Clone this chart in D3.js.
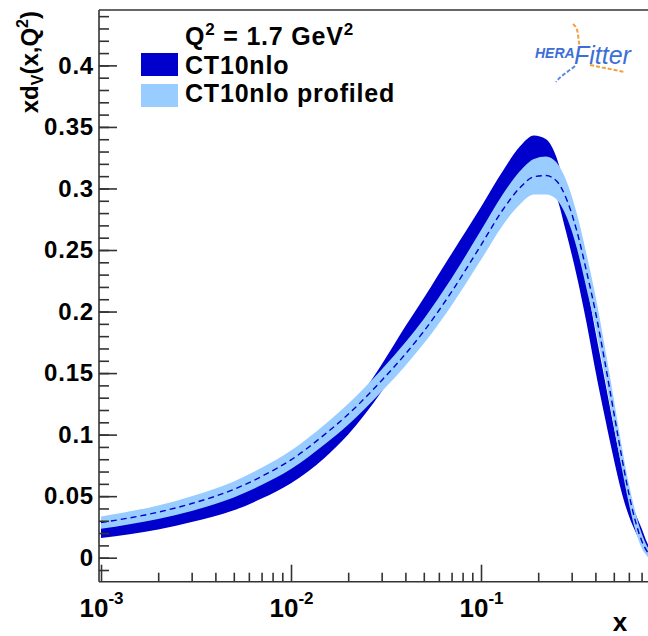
<!DOCTYPE html>
<html lang="en">
<head>
<meta charset="UTF-8">
<title>xdv CT10nlo profiled</title>
<script src="https://cdn.jsdelivr.net/npm/d3@7"></script>
<style>
  body { margin: 0; background: #fff; }
  svg text { font-family: "Liberation Sans", Arial, sans-serif; font-weight: bold; fill: #000; }
</style>
</head>
<body>
<div id="container"></div>
<script>
// x grid shared by all curves
const xGrid   = [0.001, 0.002, 0.003, 0.005, 0.007, 0.01, 0.015, 0.02, 0.03, 0.04, 0.05, 0.07, 0.1, 0.13, 0.16, 0.19, 0.22, 0.25, 0.28, 0.32, 0.36, 0.4, 0.45, 0.5, 0.55, 0.6, 0.65, 0.7, 0.75, 0.8];
// CT10nlo band
const ct10Lo  = [0.016, 0.023, 0.029, 0.0385, 0.048, 0.0605, 0.081, 0.100, 0.135, 0.164, 0.185, 0.219, 0.255, 0.282, 0.300, 0.309, 0.306, 0.293, 0.265, 0.228, 0.190, 0.152, 0.113, 0.080, 0.053, 0.034, 0.021, 0.011, 0.004, 0.001];
const ct10Hi  = [0.025, 0.0335, 0.040, 0.051, 0.061, 0.0745, 0.097, 0.118, 0.157, 0.188, 0.211, 0.247, 0.285, 0.314, 0.334, 0.343, 0.340, 0.325, 0.297, 0.258, 0.222, 0.184, 0.143, 0.106, 0.075, 0.052, 0.036, 0.024, 0.012, 0.005];
// CT10nlo profiled band and central value
const profLo  = [0.0235, 0.0315, 0.038, 0.049, 0.059, 0.072, 0.092, 0.108, 0.135, 0.156, 0.174, 0.205, 0.242, 0.270, 0.287, 0.295, 0.295, 0.291, 0.278, 0.251, 0.218, 0.187, 0.146, 0.107, 0.073, 0.044, 0.022, 0.008, 0.001, -0.003];
const profHi  = [0.0335, 0.0425, 0.050, 0.062, 0.073, 0.087, 0.108, 0.125, 0.153, 0.175, 0.194, 0.227, 0.266, 0.295, 0.314, 0.324, 0.326, 0.321, 0.307, 0.279, 0.246, 0.213, 0.170, 0.129, 0.091, 0.060, 0.037, 0.020, 0.009, 0.004];
const profMid = [0.0285, 0.037, 0.044, 0.0555, 0.066, 0.0795, 0.100, 0.1165, 0.144, 0.1655, 0.184, 0.216, 0.254, 0.2825, 0.3005, 0.3095, 0.3105, 0.306, 0.2925, 0.265, 0.232, 0.200, 0.158, 0.118, 0.082, 0.052, 0.0295, 0.014, 0.005, 0.0005];

const yLabels = [0, 0.05, 0.1, 0.15, 0.2, 0.25, 0.3, 0.35, 0.4];
const xDecades = [1e-3, 1e-2, 1e-1];

var W = 648, H = 636;
var plotLeft = 99, plotTop = 10, plotBottom = 581.7;

var svg = d3.select("#container").append("svg")
    .attr("width", W)
    .attr("height", H);

// scales: decade 10^-3 sits at 101px, one decade = 190px
var x = d3.scaleLog().domain([1e-3, 1]).range([101, 671]);
x.domain([x.invert(plotLeft), 1]).range([plotLeft, 671]);
var y = d3.scaleLinear().domain([-0.0195, 0.445]).range([plotBottom, plotTop]);

svg.append("clipPath").attr("id", "plot-clip")
    .append("rect")
    .attr("x", plotLeft).attr("y", plotTop)
    .attr("width", 700).attr("height", plotBottom - plotTop);

var rows = xGrid.map((d, i) => ({ x: d, dLo: ct10Lo[i], dHi: ct10Hi[i], pLo: profLo[i], pHi: profHi[i], pMid: profMid[i] }));

var plot = svg.append("g").attr("clip-path", "url(#plot-clip)");

var darkArea = d3.area()
    .x(d => x(d.x)).y0(d => y(d.dLo)).y1(d => y(d.dHi))
    .curve(d3.curveMonotoneX);
var lightArea = d3.area()
    .x(d => x(d.x)).y0(d => y(d.pLo)).y1(d => y(d.pHi))
    .curve(d3.curveMonotoneX);
var midLine = d3.line()
    .x(d => x(d.x)).y(d => y(d.pMid))
    .curve(d3.curveMonotoneX);

plot.append("path").datum(rows).attr("d", darkArea).attr("fill", "#0000cc");
plot.append("path").datum(rows).attr("d", lightArea).attr("fill", "#99ccff");
plot.append("path").datum(rows).attr("d", midLine)
    .attr("fill", "none").attr("stroke", "#0000cc")
    .attr("stroke-width", 1.4).attr("stroke-dasharray", "6,4");

// frame lines
var axisColor = "#333";
svg.append("line").attr("x1", plotLeft).attr("x2", W).attr("y1", plotTop).attr("y2", plotTop)
    .attr("stroke", axisColor).attr("stroke-width", 1.6);

// y axis: minor ticks every 0.01, major every 0.05
var yMinor = d3.range(-1, 45).map(i => i / 100);
svg.append("g")
    .attr("transform", "translate(" + plotLeft + ",0)")
    .call(d3.axisLeft(y).tickValues(yMinor).tickSizeInner(-10).tickSizeOuter(0).tickFormat(""))
    .call(g => g.select(".domain").remove())
    .call(g => g.selectAll("line").attr("stroke", axisColor).attr("stroke-width", 1.6));

svg.append("g")
    .attr("class", "y-axis")
    .attr("transform", "translate(" + plotLeft + ",0)")
    .call(d3.axisLeft(y).tickValues(yLabels).tickSizeInner(-18).tickSizeOuter(0).tickPadding(5)
        .tickFormat(d => String(+d.toFixed(2))))
    .call(g => g.select(".domain").remove())
    .call(g => g.selectAll("line").attr("stroke", axisColor).attr("stroke-width", 1.6))
    .call(g => g.selectAll("text").attr("font-size", 24).attr("font-family", null)
        .attr("fill", "#000").style("letter-spacing", "0.8px"));

// x axis: log, decades with superscript labels
var xMinor = [];
[-3, -2, -1].forEach(p => { for (var k = 2; k <= 9; k++) xMinor.push(k * Math.pow(10, p)); });
svg.append("g")
    .attr("transform", "translate(0," + plotBottom + ")")
    .call(d3.axisBottom(x).tickValues(xMinor).tickSizeInner(-9).tickSizeOuter(0).tickFormat(""))
    .call(g => g.select(".domain").remove())
    .call(g => g.selectAll("line").attr("stroke", axisColor).attr("stroke-width", 1.6));

svg.append("g")
    .attr("class", "x-axis")
    .attr("transform", "translate(0," + plotBottom + ")")
    .call(d3.axisBottom(x).tickValues(xDecades).tickSizeInner(-17).tickSizeOuter(0).tickFormat(""))
    .call(g => g.select(".domain").remove())
    .call(g => g.selectAll("line").attr("stroke", axisColor).attr("stroke-width", 1.6))
    .call(g => g.selectAll(".tick text").remove())
    .call(g => g.selectAll(".tick").append("text")
        .attr("y", 35).attr("text-anchor", "middle").attr("font-size", 26)
        .each(function (d) {
            var t = d3.select(this);
            t.append("tspan").text("10");
            t.append("tspan").attr("font-size", 17).attr("dy", -13).text(Math.round(Math.log10(d)));
        }));

svg.append("line").attr("x1", plotLeft).attr("x2", plotLeft).attr("y1", plotTop).attr("y2", plotBottom)
    .attr("stroke", axisColor).attr("stroke-width", 1.6);
svg.append("line").attr("x1", plotLeft).attr("x2", W).attr("y1", plotBottom).attr("y2", plotBottom)
    .attr("stroke", axisColor).attr("stroke-width", 1.6);

// axis titles
svg.append("text")
    .attr("x", 620).attr("y", 631)
    .attr("text-anchor", "middle").attr("font-size", 26)
    .text("x");

var yTitle = svg.append("text")
    .attr("transform", "translate(38,11) rotate(-90)")
    .attr("text-anchor", "end").attr("font-size", 24);
yTitle.append("tspan").text("xd");
yTitle.append("tspan").attr("font-size", 16).attr("dy", 5).text("V");
yTitle.append("tspan").attr("dy", -5).text("(x,Q");
yTitle.append("tspan").attr("font-size", 16).attr("dy", -10).text("2");
yTitle.append("tspan").attr("dy", 10).text(")");

// legend
var legend = svg.append("g").attr("class", "legend").style("letter-spacing", "0.8px");
var q = legend.append("text").attr("x", 185).attr("y", 45).attr("font-size", 25);
q.append("tspan").text("Q");
q.append("tspan").attr("font-size", 17).attr("dy", -10).text("2");
q.append("tspan").attr("dy", 10).text(" = 1.7 GeV");
q.append("tspan").attr("font-size", 17).attr("dy", -10).text("2");

var legendItems = [["CT10nlo", "#0000cc"], ["CT10nlo profiled", "#99ccff"]];
legend.selectAll("rect")
    .data(legendItems)
    .enter().append("rect")
    .attr("x", 141).attr("y", (d, i) => 53 + i * 31)
    .attr("width", 37).attr("height", 23)
    .attr("fill", d => d[1]);
legend.selectAll("text.item")
    .data(legendItems)
    .enter().append("text")
    .attr("class", "item")
    .attr("x", 185).attr("y", (d, i) => 74 + i * 28)
    .attr("font-size", 25)
    .text(d => d[0]);

// HERAFitter logo (approximate)
var logo = svg.append("g").attr("class", "logo");
logo.append("path")
    .attr("d", "M573,24 C580,30 577,38 580,46")
    .attr("fill", "none").attr("stroke", "#f0a040").attr("stroke-width", 2).attr("stroke-dasharray", "4,2");
logo.append("path")
    .attr("d", "M590,65 C605,68 615,70 624,72")
    .attr("fill", "none").attr("stroke", "#f0a040").attr("stroke-width", 2).attr("stroke-dasharray", "4,2");
logo.append("path")
    .attr("d", "M575,66 C568,72 560,76 556,82")
    .attr("fill", "none").attr("stroke", "#5a8ae0").attr("stroke-width", 2).attr("stroke-dasharray", "4,2");
logo.append("text")
    .attr("x", 535).attr("y", 58).attr("font-size", 14).attr("font-style", "italic")
    .style("fill", "#3c6fd6").text("HERA");
logo.append("text")
    .attr("x", 574).attr("y", 64).attr("font-size", 25).attr("font-style", "italic")
    .style("fill", "#3c6fd6").style("font-weight", "normal").text("Fitter");
</script>
</body>
</html>
